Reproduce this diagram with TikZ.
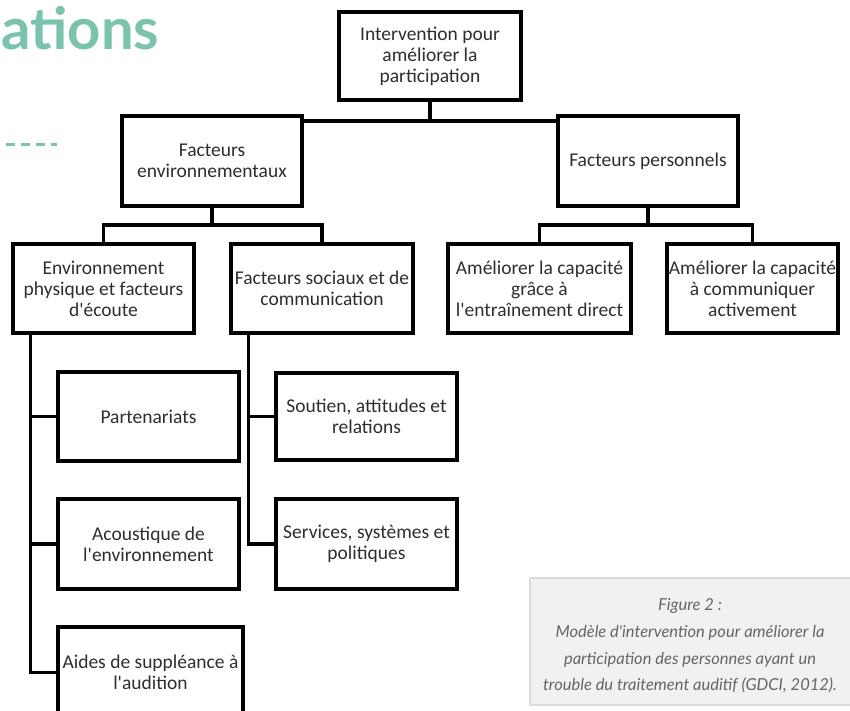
\documentclass[tikz,border=0pt]{standalone}
\usepackage{fontspec}
\setmainfont{Carlito}
\newfontfamily\headfont{Lato}
\newfontfamily\capfont{Lato}
\usetikzlibrary{calc}
\definecolor{ptealgreen}{HTML}{7BC3AD}
\definecolor{pcapfill}{HTML}{F0F1F3}
\definecolor{pcapline}{HTML}{D9DBDE}
\definecolor{pcaptext}{HTML}{666666}
\newcommand{\ap}{\textquotesingle}
\tikzset{
  orgbox/.style={draw=black,line width=3.4pt,fill=white,inner sep=0pt,align=center,
    font=\fontsize{19.5}{21}\selectfont,text=black!82},
  orglink/.style={draw=black,line width=3.4pt,line join=miter},
  figcaptext/.style={align=center,inner sep=0pt,
    font=\capfont\itshape\fontsize{16.5}{26.7}\selectfont,text=pcaptext}
}
\begin{document}
\begin{tikzpicture}[x=1pt,y=-1pt]
\useasboundingbox (0,0) rectangle (850,711);
\clip (0,0) rectangle (850,711);
% page heading fragment
\node[anchor=base west,inner sep=0pt,text=ptealgreen,font=\headfont\bfseries\fontsize{58}{62}\selectfont] (head) at (1,50) {ations};
\draw[ptealgreen,line width=3pt,dash pattern=on 9pt off 6pt] (6,145) -- (57,145);
% boxes
\node[orgbox,minimum width=182pt,minimum height=88pt] (top) at (430,56) {Intervention pour\\améliorer la\\participation};
\node[orgbox,minimum width=180pt,minimum height=90pt] (env) at (212,161) {Facteurs\\environnementaux};
\node[orgbox,minimum width=180pt,minimum height=90pt] (pers) at (648,161) {Facteurs personnels};
\node[orgbox,minimum width=181pt,minimum height=89pt] (phys) at (103.5,288.5) {Environnement\\physique et facteurs\\d\ap écoute};
\node[orgbox,minimum width=182pt,minimum height=89pt] (soc) at (322,288.5) {Facteurs sociaux et de\\communication};
\node[orgbox,minimum width=183pt,minimum height=89pt] (capa) at (539.5,288.5) {Améliorer la capacité\\grâce à\\l\ap entraînement direct};
\node[orgbox,minimum width=171pt,minimum height=89pt] (capb) at (752.5,288.5) {Améliorer la capacité\\à communiquer\\activement};
\node[orgbox,minimum width=181pt,minimum height=89pt] (part) at (148.5,416.5) {Partenariats};
\node[orgbox,minimum width=181pt,minimum height=90pt] (acou) at (148.5,544) {Acoustique de\\l\ap environnement};
\node[orgbox,minimum width=185pt,minimum height=91pt] (aid) at (150.5,672.5) {Aides de suppléance à\\l\ap audition};
\node[orgbox,minimum width=181pt,minimum height=87pt] (sout) at (366.5,416.5) {Soutien, attitudes et\\relations};
\node[orgbox,minimum width=181pt,minimum height=90pt] (serv) at (366.5,544) {Services, systèmes et\\politiques};
% links
\coordinate (j0) at (430,121);
\coordinate (j1) at (212,225);
\coordinate (j2) at (648,225);
\coordinate (sp1) at ($(phys.south west)+(19,0)$);
\coordinate (sp2) at ($(soc.south west)+(19,0)$);
\draw[orglink] (top.south) -- (j0);
\draw[orglink] (env.east |- j0) -- (pers.west |- j0);
\draw[orglink] (env.south) -- (j1);
\draw[orglink] (phys.north) |- (j1) -| (soc.north);
\draw[orglink] (pers.south) -- (j2);
\draw[orglink] (capa.north) |- (j2) -| (capb.north);
\draw[orglink] (sp1) |- (aid.west);
\foreach \n in {part,acou}{\draw[orglink] (sp1 |- \n.west) -- (\n.west);}
\draw[orglink] (sp2) |- (serv.west);
\draw[orglink] (sp2 |- sout.west) -- (sout.west);
% caption
\draw[pcapline,line width=2pt,fill=pcapfill] (530,578) rectangle (853,705);
\node[figcaptext] (figcap) at (690,646)
  {Figure 2 :\\Modèle d\ap intervention pour améliorer la\\participation des personnes ayant un\\trouble du traitement auditif (GDCI, 2012).};
\end{tikzpicture}
\end{document}
